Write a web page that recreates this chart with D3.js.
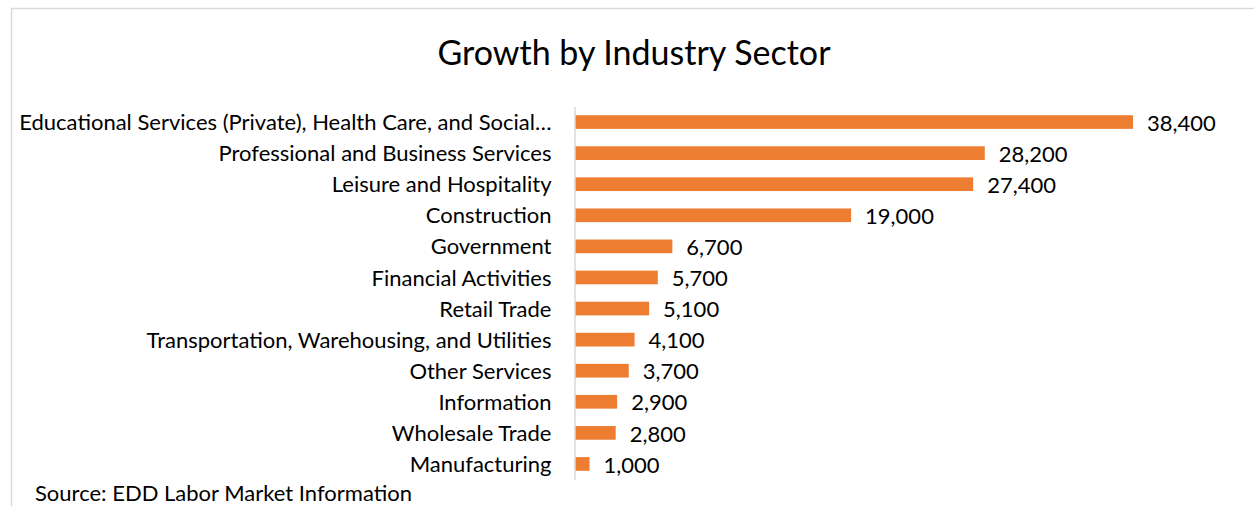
<!DOCTYPE html>
<html><head><meta charset="utf-8">
<script src="https://cdn.jsdelivr.net/npm/d3@7"></script>
<style>body{margin:0;background:#fff}svg{display:block}</style>
</head><body>
<svg id="c" width="1254" height="506"></svg>
<script>
const categories = ["Educational Services (Private), Health Care, and Social…","Professional and Business Services","Leisure and Hospitality","Construction","Government","Financial Activities","Retail Trade","Transportation, Warehousing, and Utilities","Other Services","Information","Wholesale Trade","Manufacturing"];
const values = [38400,28200,27400,19000,6700,5700,5100,4100,3700,2900,2800,1000];
const title = "Growth by Industry Sector";
const source = "Source: EDD Labor Market Information";

const svg = d3.select("#c");
const font = "Lato, 'Open Sans', sans-serif";
svg.append("rect").attr("x",11.5).attr("y",8.5).attr("width",1300).attr("height",600)
  .attr("fill","#fff").attr("stroke","#d9d9d9").attr("stroke-width",1.5);

const x = d3.scaleLinear().domain([0,38400]).range([575,1133]);
const y = d3.scaleBand().domain(categories).range([106.5,479.5]).paddingInner(0.56).paddingOuter(0.28);

svg.append("text").attr("x",634).attr("y",65).attr("text-anchor","middle")
  .attr("font-family",font).attr("font-size",34).attr("fill","#000").text(title);

svg.selectAll("rect.bar").data(values).join("rect").attr("class","bar")
  .attr("x",x(0)).attr("y",(d,i)=>y(categories[i]))
  .attr("width",d=>x(d)-x(0)).attr("height",y.bandwidth()).attr("fill","#ED7D31");

svg.selectAll("text.val").data(values).join("text").attr("class","val")
  .attr("x",d=>x(d)+14).attr("y",(d,i)=>y(categories[i])+y.bandwidth()/2+1)
  .attr("dy","0.35em").attr("font-family",font).attr("font-size",22).attr("fill","#000")
  .text(d=>d3.format(",")(d));

const ax = d3.axisLeft(y).tickSize(0).tickPadding(23);
const g = svg.append("g").attr("transform",`translate(${x(0)-0.5},1)`).call(ax);
g.select(".domain").attr("stroke","#d9d9d9").attr("stroke-width",1.5).attr("transform","translate(0,-1)");
g.selectAll("text").attr("font-family",font).attr("font-size",22).attr("fill","#000");

svg.append("text").attr("x",35).attr("y",501).attr("font-family",font).attr("font-size",22).attr("fill","#000").text(source);
</script>
</body></html>
